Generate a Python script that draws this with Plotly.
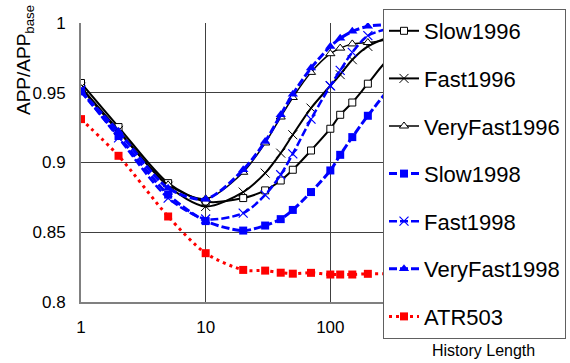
import plotly.graph_objects as go

x_vals = [1, 2, 5, 10, 20, 30, 40, 50, 70, 100, 120, 150, 200, 300, 500, 1000]

slow1996 = [0.957, 0.9254, 0.8852, 0.872, 0.8745, 0.880, 0.8871, 0.8948, 0.9086, 0.9242, 0.9342, 0.943, 0.9565, 0.975, 0.985, 0.990]
fast1996 = [0.954, 0.923, 0.883, 0.8685, 0.8788, 0.8924, 0.9067, 0.9199, 0.939, 0.955, 0.963, 0.9737, 0.9832, 0.990, 0.995, 0.997]
veryfast1996 = [0.953, 0.922, 0.884, 0.874, 0.893, 0.914, 0.9326, 0.9466, 0.9646, 0.978, 0.982, 0.985, 0.986, 0.988, 0.989, 0.990]
slow1998 = [0.951, 0.919, 0.877, 0.858, 0.8512, 0.8548, 0.8594, 0.866, 0.8788, 0.8943, 0.9055, 0.9182, 0.9335, 0.953, 0.970, 0.985]
fast1998 = [0.952, 0.9177, 0.8745, 0.8595, 0.8637, 0.8768, 0.8912, 0.9062, 0.9311, 0.955, 0.966, 0.979, 0.9909, 0.996, 0.998, 0.999]
veryfast1998 = [0.951, 0.9222, 0.8816, 0.8737, 0.8948, 0.915, 0.9342, 0.949, 0.9677, 0.9832, 0.989, 0.994, 0.9976, 0.999, 0.9995, 0.9995]
atr503 = [0.9311, 0.9048, 0.8613, 0.835, 0.823, 0.8225, 0.821, 0.8203, 0.8209, 0.8197, 0.8197, 0.8197, 0.8202, 0.8203, 0.8205, 0.821]

series_names = ["Slow1996", "Fast1996", "VeryFast1996", "Slow1998", "Fast1998", "VeryFast1998", "ATR503"]
series_values = [slow1996, fast1996, veryfast1996, slow1998, fast1998, veryfast1998, atr503]

x_tickvals = [1, 10, 100]
x_ticktext = ["1", "10", "100"]
y_tickvals = [0.8, 0.85, 0.9, 0.95, 1.0]
y_ticktext = ["0.8", "0.85", "0.9", "0.95", "1"]

styles = [
    dict(line=dict(color="black", width=2), marker=dict(symbol="square", size=7, color="white", line=dict(color="black", width=1))),
    dict(line=dict(color="black", width=2), marker=dict(symbol="x-thin", size=9, color="black", line=dict(color="black", width=1))),
    dict(line=dict(color="black", width=1.5), marker=dict(symbol="triangle-up", size=8, color="white", line=dict(color="black", width=1))),
    dict(line=dict(color="#0000FF", width=3, dash="8px,3px"), marker=dict(symbol="square", size=8, color="#0000FF")),
    dict(line=dict(color="#0000FF", width=2.5, dash="8px,3px"), marker=dict(symbol="x-thin", size=9, color="#0000FF", line=dict(color="#0000FF", width=1.2))),
    dict(line=dict(color="#0000FF", width=3, dash="8px,3px"), marker=dict(symbol="triangle-up", size=9, color="#0000FF")),
    dict(line=dict(color="#FF0000", width=3, dash="3px,4px"), marker=dict(symbol="square", size=8, color="#FF0000")),
]

fig = go.Figure()
for i, (name, vals, st) in enumerate(zip(series_names, series_values, styles)):
    fig.add_trace(go.Scatter(
        x=x_vals, y=vals, name=name, mode="lines+markers",
        line=dict(shape="spline", smoothing=0.8, **st["line"]),
        marker=st["marker"], legendgroup="g%d" % i,
    ))

font_family = "Liberation Sans, Arial, sans-serif"

fig.update_layout(
    width=570, height=363,
    margin=dict(l=81, r=115, t=23, b=61, autoexpand=False),
    paper_bgcolor="white", plot_bgcolor="white",
    font=dict(family=font_family, color="black", size=17),
    showlegend=True,
    legend=dict(
        x=(383 - 81) / 374, y=(302 - 9) / 279, xanchor="left", yanchor="top",
        bgcolor="white", bordercolor="#606060", borderwidth=1,
        font=dict(size=22, family=font_family, color="black"),
        traceorder="grouped", tracegroupgap=16, maxheight=360,
    ),
    xaxis=dict(
        type="log", range=[0, 3], tickvals=x_tickvals, ticktext=x_ticktext,
        showgrid=True, gridcolor="#404040", gridwidth=1,
        showline=True, linecolor="#808080", linewidth=2,
        ticks="", ticklabelstandoff=9, zeroline=False,
        tickfont=dict(size=17),
    ),
    yaxis=dict(
        range=[0.8, 1.0], tickvals=y_tickvals, ticktext=y_ticktext,
        showgrid=True, gridcolor="#404040", gridwidth=1,
        showline=True, linecolor="#808080", linewidth=2,
        ticks="", ticklabelstandoff=10, zeroline=False,
        tickfont=dict(size=17),
    ),
    annotations=[
        dict(text="APP/APP<sub>base</sub>", textangle=-90, xref="paper", yref="paper",
             x=(25 - 81) / 374, y=(302 - 60) / 279, xanchor="center", yanchor="middle",
             showarrow=False, font=dict(size=19, family=font_family)),
        dict(text="History Length", xref="paper", yref="paper",
             x=(483 - 81) / 374, y=(302 - 350) / 279, xanchor="center", yanchor="middle",
             showarrow=False, font=dict(size=16, family=font_family)),
    ],
)

fig.write_html("out.html")
